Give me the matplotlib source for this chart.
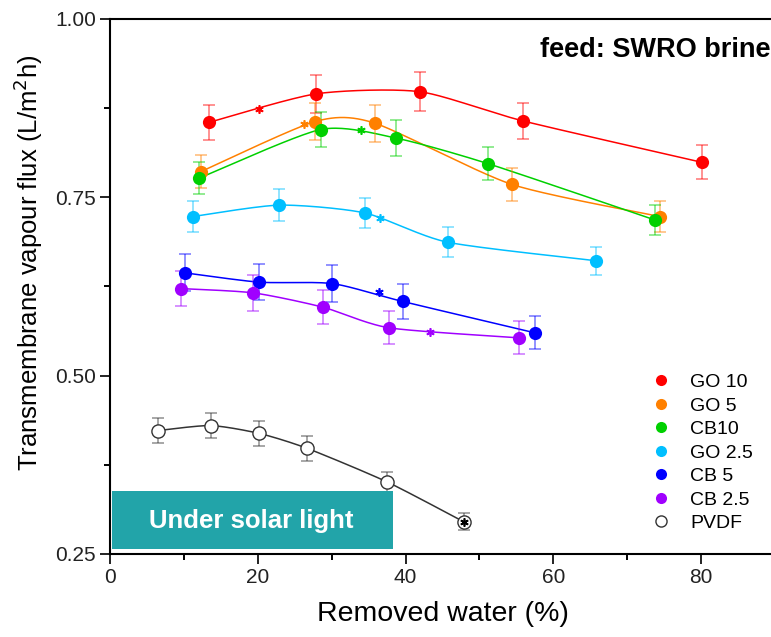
import numpy as np
import matplotlib
matplotlib.use("Agg")
import matplotlib.pyplot as plt
from matplotlib.lines import Line2D
from matplotlib.patches import Rectangle

plt.rcParams["font.family"] = ["Liberation Sans", "DejaVu Sans"]

# values
labels = ["GO 10", "GO 5", "CB10", "GO 2.5", "CB 5", "CB 2.5", "PVDF"]
colors = ["#FF0000", "#FF8000", "#00D000", "#00BFFF", "#0000FF", "#A000FF", "#333333"]

go10_x = [13.4, 27.9, 41.9, 55.9, 80.1]
go10_y = [0.855, 0.895, 0.898, 0.857, 0.799]
go10_err = [0.025, 0.027, 0.027, 0.025, 0.024]

go5_x = [12.3, 27.7, 35.8, 54.4, 74.4]
go5_y = [0.786, 0.856, 0.854, 0.768, 0.723]
go5_err = [0.023, 0.026, 0.026, 0.023, 0.022]

cb10_x = [12.1, 28.5, 38.7, 51.2, 73.8]
cb10_y = [0.777, 0.845, 0.833, 0.797, 0.718]
cb10_err = [0.023, 0.025, 0.025, 0.023, 0.021]

go25_x = [11.2, 22.9, 34.5, 45.7, 65.8]
go25_y = [0.723, 0.739, 0.728, 0.687, 0.661]
go25_err = [0.022, 0.022, 0.021, 0.021, 0.020]

cb5_x = [10.2, 20.2, 30.1, 39.6, 57.5]
cb5_y = [0.644, 0.631, 0.629, 0.604, 0.560]
cb5_err = [0.026, 0.025, 0.026, 0.024, 0.023]

cb25_x = [9.6, 19.4, 28.8, 37.8, 55.3]
cb25_y = [0.622, 0.616, 0.596, 0.567, 0.553]
cb25_err = [0.025, 0.025, 0.024, 0.023, 0.023]

pvdf_x = [6.5, 13.6, 20.2, 26.7, 37.5, 47.9]
pvdf_y = [0.423, 0.430, 0.419, 0.398, 0.351, 0.295]
pvdf_err = [0.017, 0.017, 0.017, 0.017, 0.014, 0.012]

# asterisk marks sitting on the curves
star_x = [20.1, 26.2, 34.0, 36.5, 36.4, 43.3, 47.9]
star_y = [0.874, 0.853, 0.845, 0.721, 0.617, 0.561, 0.295]

xs = [go10_x, go5_x, cb10_x, go25_x, cb5_x, cb25_x, pvdf_x]
ys = [go10_y, go5_y, cb10_y, go25_y, cb5_y, cb25_y, pvdf_y]
errs = [go10_err, go5_err, cb10_err, go25_err, cb5_err, cb25_err, pvdf_err]


def smooth_line(x, y, n=40, k=0.7):
    # Catmull-Rom style curve through the points (like the Origin spline)
    p = np.column_stack([x, y]).astype(float)
    p = np.vstack([p[0], p, p[-1]])
    t = np.linspace(0, 1, n)[:, None]
    h00 = 2 * t ** 3 - 3 * t ** 2 + 1
    h10 = t ** 3 - 2 * t ** 2 + t
    h01 = -2 * t ** 3 + 3 * t ** 2
    h11 = t ** 3 - t ** 2
    out = []
    for i in range(1, len(p) - 2):
        p0, p1, p2, p3 = p[i - 1], p[i], p[i + 1], p[i + 2]
        m1 = k * 0.5 * (p2 - p0)
        m2 = k * 0.5 * (p3 - p1)
        out.append(h00 * p1 + h10 * m1 + h01 * p2 + h11 * m2)
    out = np.vstack(out)
    return out[:, 0], out[:, 1]


def main() -> None:
    fig = plt.figure(figsize=(7.71, 6.37), dpi=100)
    ax = fig.add_axes([0.1427, 0.1303, 0.8625, 0.840])

    for i, lab in enumerate(labels):
        c = colors[i]
        lx, ly = smooth_line(xs[i], ys[i])
        ax.plot(lx, ly, color=c, lw=1.1, zorder=2)
        ax.errorbar(xs[i], ys[i], yerr=errs[i], fmt="none", ecolor=c,
                    alpha=0.5, elinewidth=1.2, capsize=4.3, capthick=1.2, zorder=3)
        if lab == "PVDF":
            ax.plot(xs[i], ys[i], "o", ms=9.5, mfc="white", mec="#333333",
                    mew=1.0, zorder=4)
        else:
            ax.plot(xs[i], ys[i], "o", ms=9.5, color=c, mec="none", zorder=4)
        ax.plot(star_x[i], star_y[i], marker=(6, 2, 0), ms=6,
                color=c if lab != "PVDF" else "black", mew=1.2, zorder=5)

    ax.set_xlim(0, 90)
    ax.set_ylim(0.25, 1.0)
    ax.set_xticks([0, 20, 40, 60, 80])
    ax.set_xticks([10, 30, 50, 70], minor=True)
    ax.set_yticks([0.25, 0.50, 0.75, 1.00])
    ax.set_yticks([0.375, 0.625, 0.875], minor=True)
    ax.set_yticklabels(["0.25", "0.50", "0.75", "1.00"])
    ax.tick_params(which="major", direction="out", length=7, width=1.4, labelsize=15,
                   colors="#222222", pad=3)
    ax.tick_params(which="minor", direction="out", length=4, width=1.4)
    for s in ax.spines.values():
        s.set_linewidth(1.5)
    ax.spines["right"].set_visible(False)

    ax.set_xlabel("Removed water (%)", fontsize=20.5, labelpad=10)
    ax.set_ylabel("Transmembrane vapour flux (L/m$^2$h)", fontsize=18.5)
    ax.yaxis.set_label_coords(-0.098, 0.545)

    ax.text(0.993, 0.942, "feed: SWRO brine", transform=ax.transAxes,
            ha="right", va="center", fontsize=19.5, fontweight="bold")

    # teal banner in the lower left corner
    ax.add_patch(Rectangle((0.003, 0.009), 0.423, 0.109, transform=ax.transAxes,
                           facecolor="#22A4A9", edgecolor="none", zorder=6))
    ax.text(0.213, 0.062, "Under solar light", transform=ax.transAxes,
            ha="center", va="center", fontsize=18.5, fontweight="bold",
            color="white", zorder=7)

    handles = []
    for i, lab in enumerate(labels):
        if lab == "PVDF":
            h = Line2D([], [], ls="none", marker="o", ms=8, mfc="white",
                       mec="#333333", mew=1.0)
        else:
            h = Line2D([], [], ls="none", marker="o", ms=8, color=colors[i], mec="none")
        handles.append(h)
    ax.legend(handles, labels, loc="upper left", bbox_to_anchor=(0.8135, 0.337),
              frameon=False, fontsize=14, handlelength=1.0, handletextpad=1.0,
              labelspacing=0.3, borderaxespad=0, borderpad=0)

    fig.savefig("out.png", dpi=100)
    plt.close(fig)


if __name__ == "__main__":
    main()
